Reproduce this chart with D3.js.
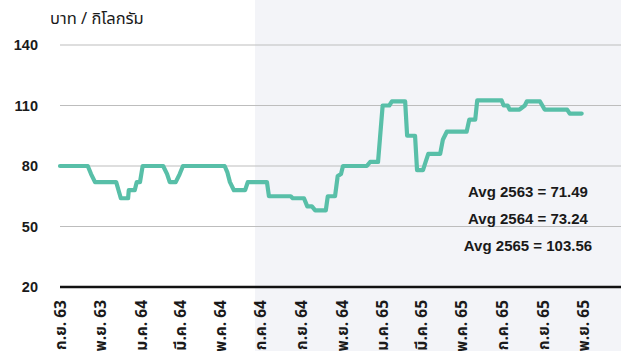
<!DOCTYPE html>
<html>
<head>
<meta charset="utf-8">
<script src="https://cdn.jsdelivr.net/npm/d3@7/dist/d3.min.js"></script>
<style>
  html, body { margin: 0; padding: 0; background: #ffffff; }
  svg { display: block; }
  text { font-family: "Liberation Sans", Arial, "Noto Sans Thai", sans-serif; fill: #1a1a1a; }
</style>
</head>
<body>
<svg id="chart" width="621" height="351"></svg>
<script>
// Weekly pork price, baht per kilogram (changes in price)
const dates = [
  "2020-09-01","2020-10-13","2020-10-18","2020-10-24","2020-11-25","2020-12-02",
  "2020-12-13","2020-12-14","2020-12-23","2020-12-26","2020-12-31","2021-01-04",
  "2021-02-04","2021-02-10","2021-02-14","2021-02-23","2021-03-01","2021-03-06",
  "2021-05-08","2021-05-12","2021-05-16","2021-05-22","2021-06-08","2021-06-12",
  "2021-07-11","2021-07-14","2021-08-16","2021-08-19","2021-09-05","2021-09-10",
  "2021-09-17","2021-09-22","2021-10-08","2021-10-11","2021-10-22","2021-10-26",
  "2021-10-31","2021-11-03","2021-12-09","2021-12-14","2021-12-26","2021-12-29",
  "2022-01-02","2022-01-12","2022-01-16","2022-02-05","2022-02-08","2022-02-20",
  "2022-02-23","2022-03-04","2022-03-08","2022-03-12","2022-03-30","2022-04-03",
  "2022-04-09","2022-05-09","2022-05-13","2022-05-22","2022-05-25","2022-07-01",
  "2022-07-04","2022-07-10","2022-07-13","2022-07-28","2022-08-05","2022-08-08",
  "2022-08-28","2022-09-04","2022-10-08","2022-10-12","2022-10-30"
];
const prices = [
  80, 80, 76, 72, 72, 64,
  64, 68, 68, 72, 72, 80,
  80, 76, 72, 72, 76, 80,
  80, 77, 72, 68, 68, 72,
  72, 65, 65, 64, 64, 60,
  60, 58, 58, 65, 65, 75,
  76, 80, 80, 82, 82, 94,
  110, 110, 112, 112, 95, 95,
  78, 78, 82, 86, 86, 93,
  97, 97, 103, 103, 112.5, 112.5,
  110, 110, 108, 108, 110, 112,
  112, 108, 108, 106, 106
];

// Axis ticks
const tickDates = [
  "2020-09-01","2020-11-01","2021-01-01","2021-03-01","2021-05-01","2021-07-01","2021-09-01",
  "2021-11-01","2022-01-01","2022-03-01","2022-05-01","2022-07-01","2022-09-01","2022-11-01"
];
const tickLabels = [
  "ก.ย. 63","พ.ย. 63","ม.ค. 64","มี.ค. 64","พ.ค. 64","ก.ค. 64","ก.ย. 64",
  "พ.ย. 64","ม.ค. 65","มี.ค. 65","พ.ค. 65","ก.ค. 65","ก.ย. 65","พ.ย. 65"
];
const yTicks = [20, 50, 80, 110, 140];

// Highlighted period and yearly averages
const highlightStart = "2021-06-23";
const avgLabels = ["Avg 2563 = 71.49", "Avg 2564 = 73.24", "Avg 2565 = 103.56"];
const unitLabel = "บาท / กิโลกรัม";

const parse = d3.utcParse("%Y-%m-%d");
const W = 621, H = 351;
const svg = d3.select("#chart");

const x = d3.scaleUtc()
  .domain([parse("2020-09-01"), parse("2022-11-01")])
  .range([60, 583]);
const y = d3.scaleLinear().domain([20, 140]).range([287, 45]);

// shaded background for the later period
svg.append("rect")
  .attr("x", x(parse(highlightStart)))
  .attr("y", 0)
  .attr("width", W - x(parse(highlightStart)))
  .attr("height", H)
  .attr("fill", "#f3f4f8");

// horizontal grid lines
svg.append("g").selectAll("line")
  .data(yTicks.filter(v => v !== 20))
  .join("line")
  .attr("x1", 60).attr("x2", W)
  .attr("y1", d => y(d)).attr("y2", d => y(d))
  .attr("stroke", "#bdbdbd").attr("stroke-width", 1.2);

// y tick labels
svg.append("g").selectAll("text")
  .data(yTicks)
  .join("text")
  .attr("x", 38)
  .attr("y", d => y(d))
  .attr("dy", "0.36em")
  .attr("text-anchor", "end")
  .attr("font-size", 14.5)
  .attr("font-weight", "bold")
  .text(d => d);

// unit label
svg.append("text")
  .attr("x", 50).attr("y", 24)
  .attr("font-size", 16.5)
  .style("font-family", "'Noto Sans Thai', 'Noto Sans', sans-serif")
  .text(unitLabel);

// bottom axis
const xAxis = d3.axisBottom(x)
  .tickValues(tickDates.map(parse))
  .tickFormat((d, i) => tickLabels[i])
  .tickSize(0);
const gx = svg.append("g").attr("transform", "translate(0,287)").call(xAxis);
gx.select(".domain").remove();
gx.append("line")
  .attr("x1", 60).attr("x2", W).attr("y1", 0).attr("y2", 0)
  .attr("stroke", "#111").attr("stroke-width", 2.5);
gx.selectAll(".tick text")
  .attr("transform", "rotate(-90)")
  .attr("text-anchor", "end")
  .attr("x", -13)
  .attr("y", 0)
  .attr("dy", "0.35em")
  .attr("font-size", 15.5)
  .attr("font-weight", "bold")
  .style("font-family", "'Noto Sans Thai', 'Liberation Sans', sans-serif")
  .attr("fill", "#1a1a1a");

// price line
const series = dates.map((d, i) => ({ date: parse(d), value: prices[i] }));
svg.append("path")
  .datum(series)
  .attr("fill", "none")
  .attr("stroke", "#58bfa8")
  .attr("stroke-width", 4.2)
  .attr("stroke-linejoin", "round")
  .attr("stroke-linecap", "round")
  .attr("d", d3.line().x(d => x(d.date)).y(d => y(d.value)));

// yearly averages
svg.append("g").selectAll("text")
  .data(avgLabels)
  .join("text")
  .attr("x", 528)
  .attr("y", (d, i) => 197 + i * 27)
  .attr("text-anchor", "middle")
  .attr("font-size", 15)
  .attr("font-weight", "bold")
  .text(d => d);
</script>
</body>
</html>
